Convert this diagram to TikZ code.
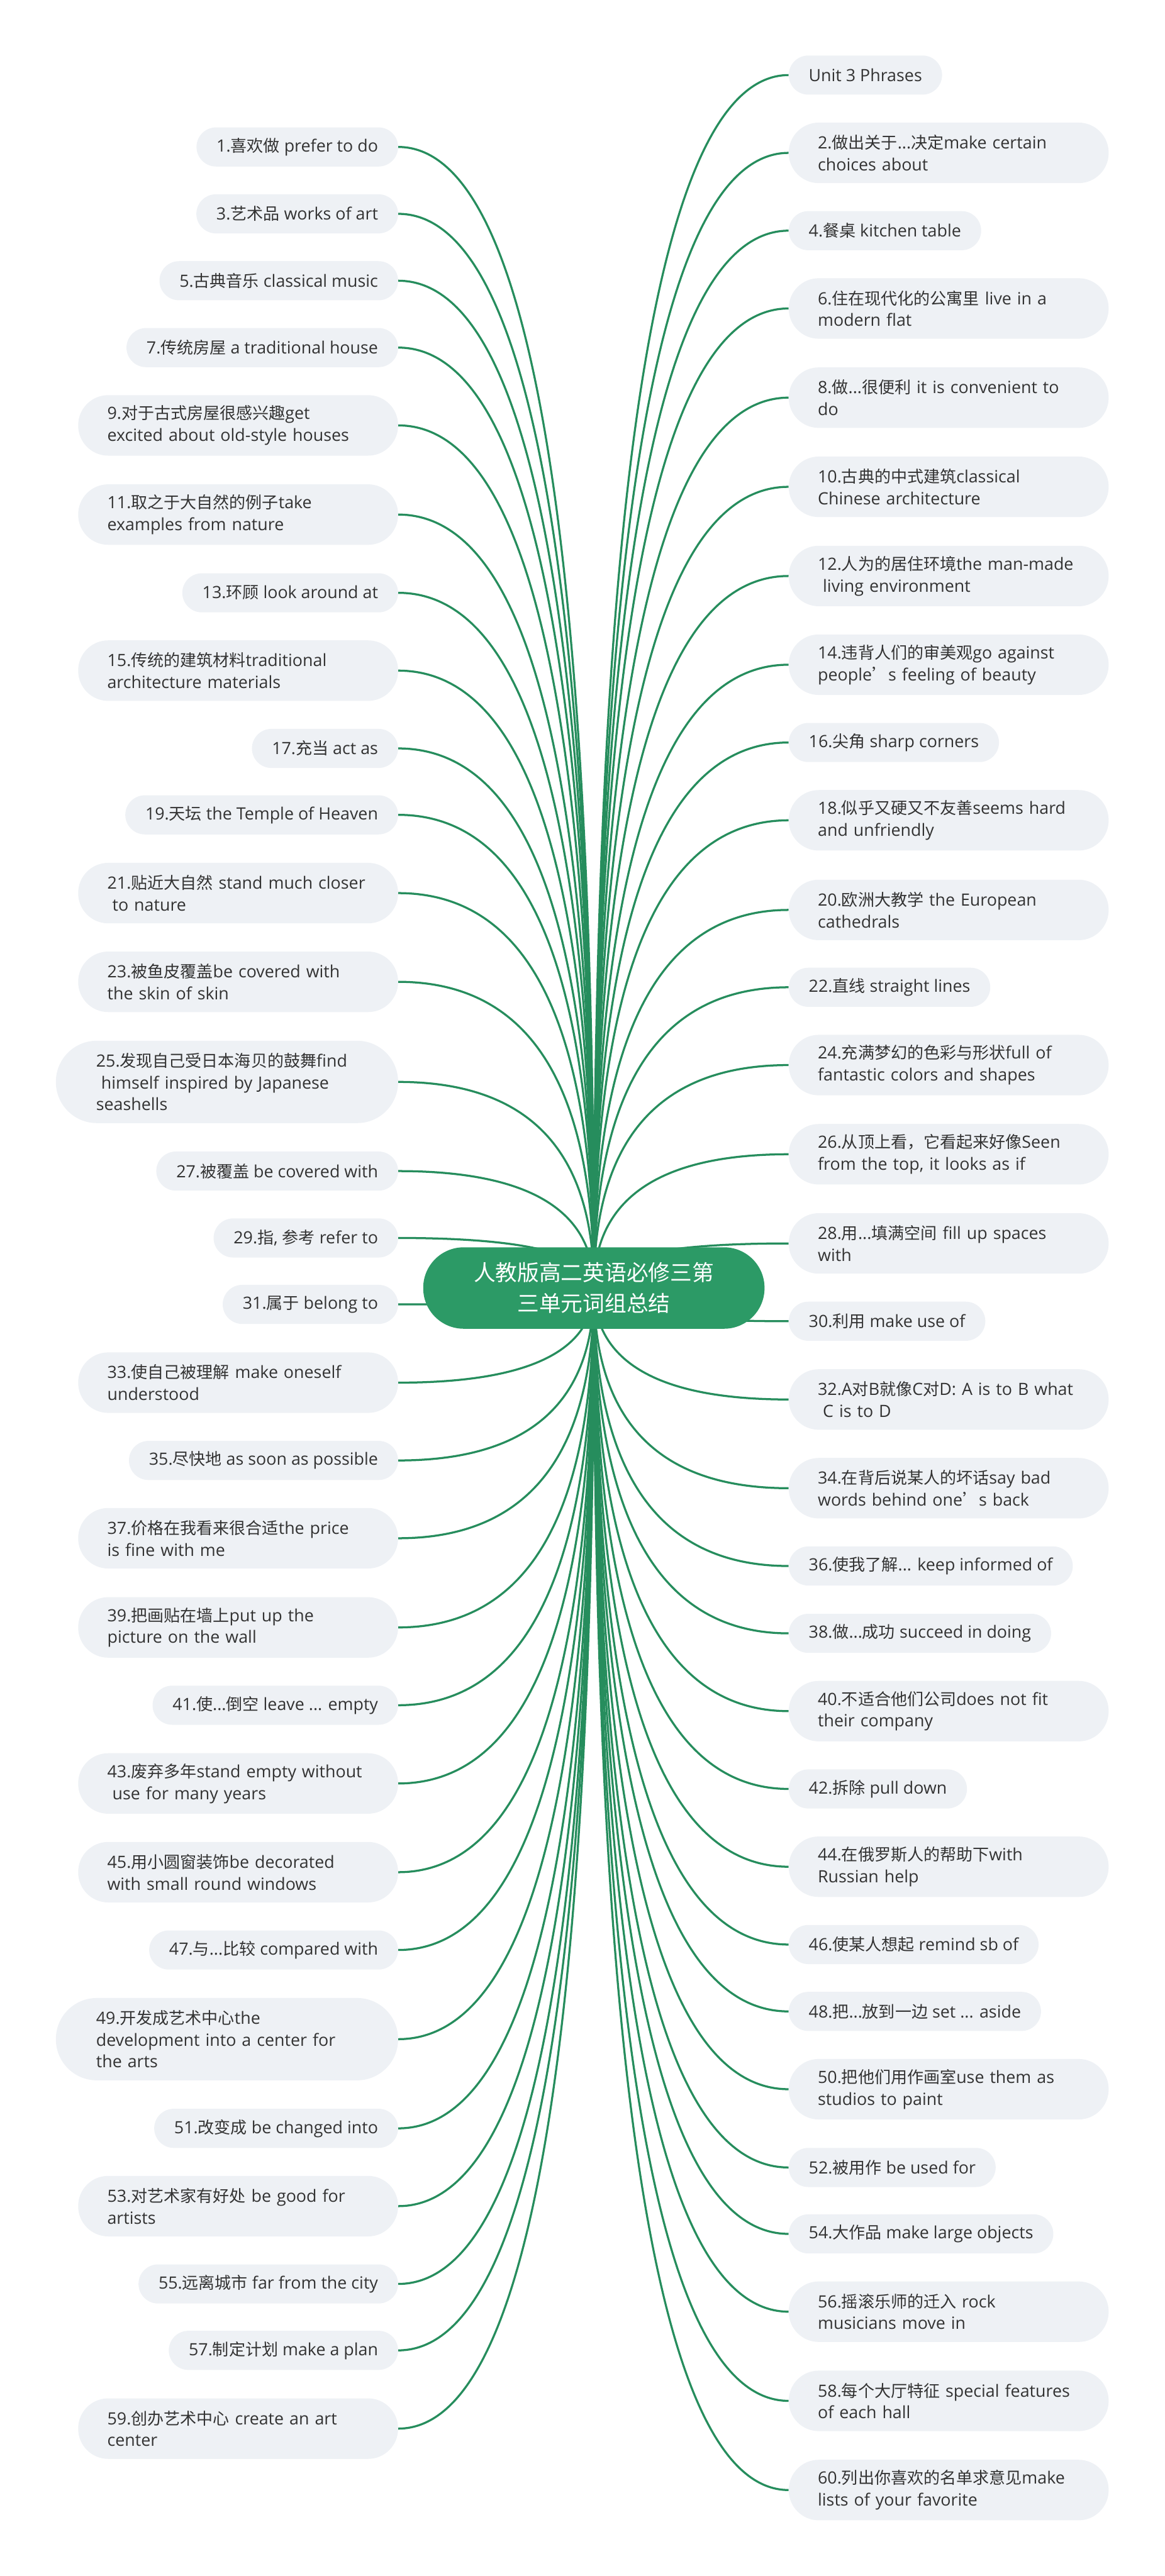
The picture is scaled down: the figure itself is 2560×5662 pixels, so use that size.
\documentclass[tikz,border=0pt]{standalone}
\usepackage{fontspec}
\setmainfont[Scale=1.03]{Open Sans}
\newfontfamily\latinfam[Scale=1.03]{Open Sans}
\newfontfamily\cjkfam{Noto Sans CJK SC}
\usepackage{tikz}
\usetikzlibrary{backgrounds,calc}

%% 中文字符自动换用中文字体
\XeTeXinterchartokenstate=1
\newXeTeXintercharclass\zhclass
\count255="4E00
\loop\ifnum\count255<"A000
  \XeTeXcharclass\count255=\zhclass
  \advance\count255 by 1
\repeat
\XeTeXcharclass"FF0C=\zhclass
\XeTeXcharclass"2019=\zhclass
\XeTeXinterchartoks 0 \zhclass = {\cjkfam}
\XeTeXinterchartoks 4095 \zhclass = {\cjkfam}
\XeTeXinterchartoks \zhclass 0 = {\latinfam}
\XeTeXinterchartoks \zhclass 4095 = {\latinfam}

\definecolor{hubgreen}{RGB}{44,154,102}
\definecolor{twiggreen}{RGB}{38,141,93}
\definecolor{leafgray}{RGB}{238,241,245}
\definecolor{ink}{RGB}{51,51,51}

\begin{document}
\begin{tikzpicture}[
    x=1pt, y=-1pt,
    font=\fontsize{36}{48}\selectfont,
    leaf/.style={
        fill=leafgray,
        text=ink,
        rounded corners=43pt,
        minimum height=86pt,
        inner xsep=44pt,
        inner ysep=0pt
    },
    leaftwo/.style={
        leaf,
        rounded corners=66pt,
        minimum height=133pt,
        text width=575pt,
        align=left,
        inner xsep=64pt
    },
    leafthree/.style={
        leaftwo,
        rounded corners=90pt,
        minimum height=181pt,
        inner xsep=88.5pt
    },
    hub/.style={
        fill=hubgreen,
        text=white,
        rounded corners=89pt,
        minimum width=750pt,
        minimum height=179pt,
        align=center,
        font=\fontsize{48}{68}\selectfont
    },
    twig/.style={
        draw=twiggreen,
        line width=4.5pt,
        to path={.. controls ($(\tikztostart)!2/3!(\tikztostart |- \tikztotarget)$)
            and ($(\tikztotarget)!2/3!(\tikztostart |- \tikztotarget)$) .. (\tikztotarget)}
    }
]
    \useasboundingbox (0,0) rectangle (2560,5662);

    %% 中心主题
    \node[hub] (topic) at (1305,2831) {人教版高二英语必修三第\\三单元词组总结};

    %% 左侧词组
    \node[leaf, anchor=east] (p1) at (875,323) {1.喜欢做 prefer to do};
    \node[leaf, anchor=east] (p3) at (875,470) {3.艺术品 works of art};
    \node[leaf, anchor=east] (p5) at (875,617) {5.古典音乐 classical music};
    \node[leaf, anchor=east] (p7) at (875,764) {7.传统房屋 a traditional house};
    \node[leaftwo, anchor=east] (p9) at (875,935) {9.对于古式房屋很感兴趣get\\excited about old-style houses};
    \node[leaftwo, anchor=east] (p11) at (875,1131) {11.取之于大自然的例子take\\examples from nature};
    \node[leaf, anchor=east] (p13) at (875,1303) {13.环顾 look around at};
    \node[leaftwo, anchor=east] (p15) at (875,1474) {15.传统的建筑材料traditional\\architecture materials};
    \node[leaf, anchor=east] (p17) at (875,1645) {17.充当 act as};
    \node[leaf, anchor=east] (p19) at (875,1791) {19.天坛 the Temple of Heaven};
    \node[leaftwo, anchor=east] (p21) at (875,1963) {21.贴近大自然 stand much closer\\\hspace*{0.3em}to nature};
    \node[leaftwo, anchor=east] (p23) at (875,2158) {23.被鱼皮覆盖be covered with\\the skin of skin};
    \node[leafthree, anchor=east] (p25) at (875,2378) {25.发现自己受日本海贝的鼓舞find\\\hspace*{0.3em}himself inspired by Japanese\\seashells};
    \node[leaf, anchor=east] (p27) at (875,2574) {27.被覆盖 be covered with};
    \node[leaf, anchor=east] (p29) at (875,2721) {29.指, 参考 refer to};
    \node[leaf, anchor=east] (p31) at (875,2867) {31.属于 belong to};
    \node[leaftwo, anchor=east] (p33) at (875,3039) {33.使自己被理解 make oneself\\understood};
    \node[leaf, anchor=east] (p35) at (875,3210) {35.尽快地 as soon as possible};
    \node[leaftwo, anchor=east] (p37) at (875,3381) {37.价格在我看来很合适the price\\is fine with me};
    \node[leaftwo, anchor=east] (p39) at (875,3577) {39.把画贴在墙上put up the\\picture on the wall};
    \node[leaf, anchor=east] (p41) at (875,3748) {41.使...倒空 leave ... empty};
    \node[leaftwo, anchor=east] (p43) at (875,3920) {43.废弃多年stand empty without\\\hspace*{0.3em}use for many years};
    \node[leaftwo, anchor=east] (p45) at (875,4115) {45.用小圆窗装饰be decorated\\with small round windows};
    \node[leaf, anchor=east] (p47) at (875,4286) {47.与...比较 compared with};
    \node[leafthree, anchor=east] (p49) at (875,4482) {49.开发成艺术中心the\\development into a center for\\the arts};
    \node[leaf, anchor=east] (p51) at (875,4678) {51.改变成 be changed into};
    \node[leaftwo, anchor=east] (p53) at (875,4849) {53.对艺术家有好处 be good for\\artists};
    \node[leaf, anchor=east] (p55) at (875,5020) {55.远离城市 far from the city};
    \node[leaf, anchor=east] (p57) at (875,5166) {57.制定计划 make a plan};
    \node[leaftwo, anchor=east] (p59) at (875,5338) {59.创办艺术中心 create an art\\center};

    %% 右侧词组
    \node[leaf, anchor=west] (unit) at (1733,165) {Unit 3 Phrases};
    \node[leaftwo, anchor=west] (p2) at (1733,336) {2.做出关于...决定make certain\\choices about};
    \node[leaf, anchor=west] (p4) at (1733,507) {4.餐桌 kitchen table};
    \node[leaftwo, anchor=west] (p6) at (1733,678) {6.住在现代化的公寓里 live in a\\modern flat};
    \node[leaftwo, anchor=west] (p8) at (1733,874) {8.做...很便利 it is convenient to\\do};
    \node[leaftwo, anchor=west] (p10) at (1733,1070) {10.古典的中式建筑classical\\Chinese architecture};
    \node[leaftwo, anchor=west] (p12) at (1733,1266) {12.人为的居住环境the man-made\\\hspace*{0.3em}living environment};
    \node[leaftwo, anchor=west] (p14) at (1733,1461) {14.违背人们的审美观go against\\people’s feeling of beauty};
    \node[leaf, anchor=west] (p16) at (1733,1632) {16.尖角 sharp corners};
    \node[leaftwo, anchor=west] (p18) at (1733,1803) {18.似乎又硬又不友善seems hard\\and unfriendly};
    \node[leaftwo, anchor=west] (p20) at (1733,2000) {20.欧洲大教学 the European\\cathedrals};
    \node[leaf, anchor=west] (p22) at (1733,2170) {22.直线 straight lines};
    \node[leaftwo, anchor=west] (p24) at (1733,2341) {24.充满梦幻的色彩与形状full of\\fantastic colors and shapes};
    \node[leaftwo, anchor=west] (p26) at (1733,2537) {26.从顶上看，它看起来好像Seen\\from the top, it looks as if};
    \node[leaftwo, anchor=west] (p28) at (1733,2733) {28.用...填满空间 fill up spaces\\with};
    \node[leaf, anchor=west] (p30) at (1733,2904) {30.利用 make use of};
    \node[leaftwo, anchor=west] (p32) at (1733,3076) {32.A对B就像C对D: A is to B what\\\hspace*{0.3em}C is to D};
    \node[leaftwo, anchor=west] (p34) at (1733,3271) {34.在背后说某人的坏话say bad\\words behind one’s back};
    \node[leaf, anchor=west] (p36) at (1733,3442) {36.使我了解... keep informed of};
    \node[leaf, anchor=west] (p38) at (1733,3590) {38.做...成功 succeed in doing};
    \node[leaftwo, anchor=west] (p40) at (1733,3761) {40.不适合他们公司does not fit\\their company};
    \node[leaf, anchor=west] (p42) at (1733,3932) {42.拆除 pull down};
    \node[leaftwo, anchor=west] (p44) at (1733,4103) {44.在俄罗斯人的帮助下with\\Russian help};
    \node[leaf, anchor=west] (p46) at (1733,4274) {46.使某人想起 remind sb of};
    \node[leaf, anchor=west] (p48) at (1733,4421) {48.把...放到一边 set ... aside};
    \node[leaftwo, anchor=west] (p50) at (1733,4592) {50.把他们用作画室use them as\\studios to paint};
    \node[leaf, anchor=west] (p52) at (1733,4764) {52.被用作 be used for};
    \node[leaf, anchor=west] (p54) at (1733,4910) {54.大作品 make large objects};
    \node[leaftwo, anchor=west] (p56) at (1733,5081) {56.摇滚乐师的迁入 rock\\musicians move in};
    \node[leaftwo, anchor=west] (p58) at (1733,5277) {58.每个大厅特征 special features\\of each hall};
    \node[leaftwo, anchor=west] (p60) at (1733,5473) {60.列出你喜欢的名单求意见make\\lists of your favorite};

    %% 连线
    \begin{scope}[on background layer]
    \draw[twig] (topic.center) to (p1.east);
    \draw[twig] (topic.center) to (p3.east);
    \draw[twig] (topic.center) to (p5.east);
    \draw[twig] (topic.center) to (p7.east);
    \draw[twig] (topic.center) to (p9.east);
    \draw[twig] (topic.center) to (p11.east);
    \draw[twig] (topic.center) to (p13.east);
    \draw[twig] (topic.center) to (p15.east);
    \draw[twig] (topic.center) to (p17.east);
    \draw[twig] (topic.center) to (p19.east);
    \draw[twig] (topic.center) to (p21.east);
    \draw[twig] (topic.center) to (p23.east);
    \draw[twig] (topic.center) to (p25.east);
    \draw[twig] (topic.center) to (p27.east);
    \draw[twig] (topic.center) to (p29.east);
    \draw[twig] (topic.center) to (p31.east);
    \draw[twig] (topic.center) to (p33.east);
    \draw[twig] (topic.center) to (p35.east);
    \draw[twig] (topic.center) to (p37.east);
    \draw[twig] (topic.center) to (p39.east);
    \draw[twig] (topic.center) to (p41.east);
    \draw[twig] (topic.center) to (p43.east);
    \draw[twig] (topic.center) to (p45.east);
    \draw[twig] (topic.center) to (p47.east);
    \draw[twig] (topic.center) to (p49.east);
    \draw[twig] (topic.center) to (p51.east);
    \draw[twig] (topic.center) to (p53.east);
    \draw[twig] (topic.center) to (p55.east);
    \draw[twig] (topic.center) to (p57.east);
    \draw[twig] (topic.center) to (p59.east);
    \draw[twig] (topic.center) to (unit.west);
    \draw[twig] (topic.center) to (p2.west);
    \draw[twig] (topic.center) to (p4.west);
    \draw[twig] (topic.center) to (p6.west);
    \draw[twig] (topic.center) to (p8.west);
    \draw[twig] (topic.center) to (p10.west);
    \draw[twig] (topic.center) to (p12.west);
    \draw[twig] (topic.center) to (p14.west);
    \draw[twig] (topic.center) to (p16.west);
    \draw[twig] (topic.center) to (p18.west);
    \draw[twig] (topic.center) to (p20.west);
    \draw[twig] (topic.center) to (p22.west);
    \draw[twig] (topic.center) to (p24.west);
    \draw[twig] (topic.center) to (p26.west);
    \draw[twig] (topic.center) to (p28.west);
    \draw[twig] (topic.center) to (p30.west);
    \draw[twig] (topic.center) to (p32.west);
    \draw[twig] (topic.center) to (p34.west);
    \draw[twig] (topic.center) to (p36.west);
    \draw[twig] (topic.center) to (p38.west);
    \draw[twig] (topic.center) to (p40.west);
    \draw[twig] (topic.center) to (p42.west);
    \draw[twig] (topic.center) to (p44.west);
    \draw[twig] (topic.center) to (p46.west);
    \draw[twig] (topic.center) to (p48.west);
    \draw[twig] (topic.center) to (p50.west);
    \draw[twig] (topic.center) to (p52.west);
    \draw[twig] (topic.center) to (p54.west);
    \draw[twig] (topic.center) to (p56.west);
    \draw[twig] (topic.center) to (p58.west);
    \draw[twig] (topic.center) to (p60.west);
    \end{scope}
\end{tikzpicture}
\end{document}
